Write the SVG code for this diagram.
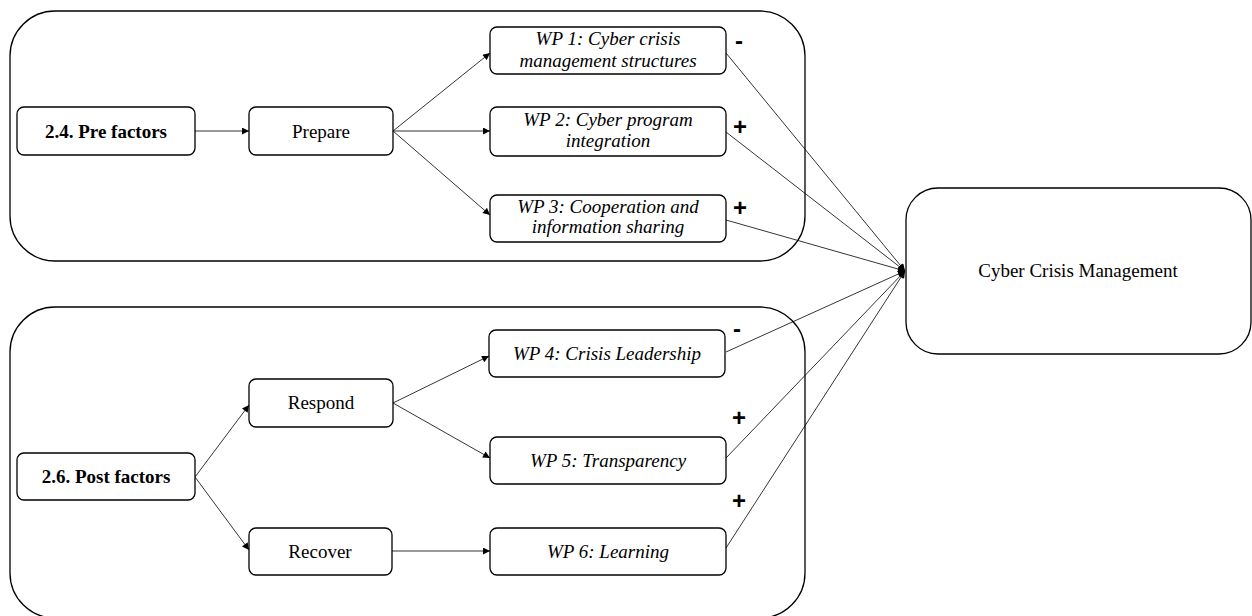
<svg xmlns="http://www.w3.org/2000/svg" width="1252" height="616" viewBox="0 0 1252 616">
<defs>
<marker id="arr" viewBox="0 0 10 10" refX="10" refY="5" markerWidth="8" markerHeight="7" markerUnits="userSpaceOnUse" orient="auto">
<path d="M0,0 L10,5 L0,10 z" fill="#000"/>
</marker>
<marker id="dot" viewBox="0 0 10 10" refX="10" refY="5" markerWidth="9" markerHeight="7" markerUnits="userSpaceOnUse" orient="auto">
<path d="M0,0 L10,5 L0,10 z" fill="#000"/>
</marker>
<style>
.grp{fill:none;stroke:#000;stroke-width:1.3}
.box{fill:#fff;stroke:#000;stroke-width:1.3}
.t{font-family:"Liberation Serif","Times New Roman",serif;font-size:19px;fill:#000;text-anchor:middle}
.b{font-weight:bold}
.i{font-style:italic}
.s{font-family:"Liberation Sans",Arial,sans-serif;font-size:24px;font-weight:bold;fill:#000;text-anchor:middle}
.c{fill:none;stroke:#000;stroke-width:0.8}
</style>
</defs>
<rect width="1252" height="616" fill="#fff"/>

<g id="pre-group"><rect class="grp" x="10" y="11" width="795" height="250" rx="45" ry="45"/></g>
<g id="post-group"><rect class="grp" x="10" y="307" width="795" height="311" rx="45" ry="45"/></g>

<g id="connectors">
<line class="c" x1="195" y1="131" x2="249" y2="131" marker-end="url(#arr)"/>
<line class="c" x1="393" y1="131" x2="490" y2="53" marker-end="url(#arr)"/>
<line class="c" x1="393" y1="131" x2="490" y2="131" marker-end="url(#arr)"/>
<line class="c" x1="393" y1="131" x2="490" y2="215" marker-end="url(#arr)"/>
<line class="c" x1="195" y1="477" x2="249" y2="405" marker-end="url(#arr)"/>
<line class="c" x1="195" y1="477" x2="249" y2="550" marker-end="url(#arr)"/>
<line class="c" x1="393" y1="403" x2="489" y2="356" marker-end="url(#arr)"/>
<line class="c" x1="393" y1="403" x2="490" y2="458" marker-end="url(#arr)"/>
<line class="c" x1="392" y1="551" x2="490" y2="551" marker-end="url(#arr)"/>
<line class="c" x1="726" y1="53" x2="905" y2="271" marker-end="url(#dot)"/>
<line class="c" x1="726" y1="132" x2="905" y2="271" marker-end="url(#dot)"/>
<line class="c" x1="726" y1="220" x2="905" y2="271" marker-end="url(#dot)"/>
<line class="c" x1="726" y1="352" x2="905" y2="271" marker-end="url(#dot)"/>
<line class="c" x1="726" y1="458" x2="905" y2="271" marker-end="url(#dot)"/>
<line class="c" x1="726" y1="548" x2="905" y2="271" marker-end="url(#dot)"/>
</g>

<g id="pre-factors"><rect class="box" x="17" y="107" width="178" height="48" rx="7"/><text class="t b" x="106" y="138">2.4. Pre factors</text></g>
<g id="prepare"><rect class="box" x="249" y="107" width="144" height="48" rx="7"/><text class="t" x="321" y="138">Prepare</text></g>
<g id="wp1"><rect class="box" x="490" y="27" width="236" height="47" rx="7"/><text class="t i" x="608" y="45">WP 1: Cyber crisis</text><text class="t i" x="608" y="67">management structures</text></g>
<g id="wp2"><rect class="box" x="490" y="107" width="236" height="49" rx="7"/><text class="t i" x="608" y="126">WP 2: Cyber program</text><text class="t i" x="608" y="147">integration</text></g>
<g id="wp3"><rect class="box" x="490" y="195" width="236" height="47" rx="7"/><text class="t i" x="608" y="213">WP 3: Cooperation and</text><text class="t i" x="608" y="233">information sharing</text></g>

<g id="post-factors"><rect class="box" x="17" y="453" width="178" height="47" rx="7"/><text class="t b" x="106" y="483">2.6. Post factors</text></g>
<g id="respond"><rect class="box" x="249" y="379" width="144" height="48" rx="7"/><text class="t" x="321" y="409">Respond</text></g>
<g id="recover"><rect class="box" x="249" y="528" width="143" height="47" rx="7"/><text class="t" x="320" y="558">Recover</text></g>
<g id="wp4"><rect class="box" x="489" y="330" width="236" height="47" rx="7"/><text class="t i" x="607" y="360">WP 4: Crisis Leadership</text></g>
<g id="wp5"><rect class="box" x="490" y="437" width="236" height="47" rx="7"/><text class="t i" x="608" y="467">WP 5: Transparency</text></g>
<g id="wp6"><rect class="box" x="490" y="528" width="236" height="47" rx="7"/><text class="t i" x="608" y="558">WP 6: Learning</text></g>

<g id="ccm"><rect class="box" x="906" y="188" width="345" height="166" rx="32"/><text class="t" x="1078" y="277">Cyber Crisis Management</text></g>

<g id="signs">
<text class="s" x="739" y="49">-</text>
<text class="s" x="740" y="135">+</text>
<text class="s" x="740" y="216">+</text>
<text class="s" x="737" y="337">-</text>
<text class="s" x="739" y="426">+</text>
<text class="s" x="739" y="509">+</text>
</g>
</svg>
